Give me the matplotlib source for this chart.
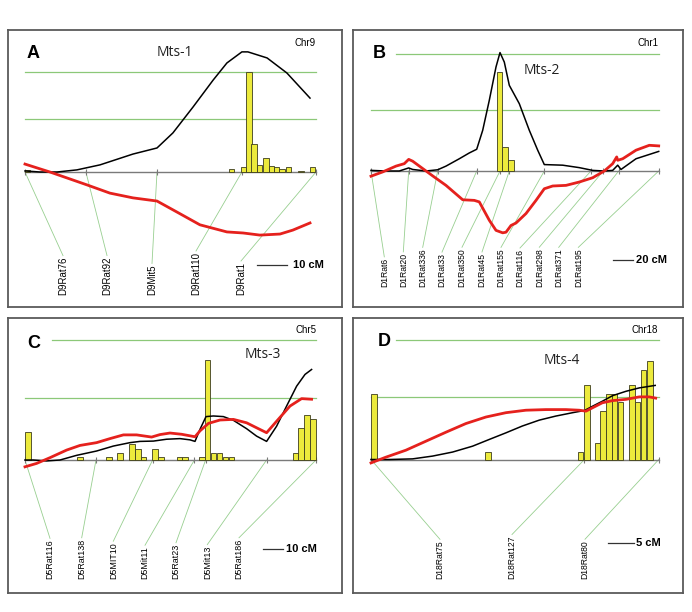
import matplotlib
matplotlib.use('Agg')
import matplotlib.pyplot as plt

W, H = 692, 612

# ---------------- DATA ----------------
# Panel A (Chr9, Mts-1)
a_markers = ['D9Rat76', 'D9Rat92', 'D9Mit5', 'D9Rat110', 'D9Rat1']
a_marker_cm = [0, 20.3, 44, 72.3, 97]
a_black_x = [0, 5, 10.7, 17.3, 25, 36, 44, 49.3, 56, 62.7, 67.3, 72.3, 74.3, 80.7, 87.3, 95]
a_black_y = [0.04, 0, 0, 0.08, 0.27, 0.68, 0.91, 1.48, 2.46, 3.48, 4.13, 4.55, 4.55, 4.32, 3.75, 2.80]
a_red_x = [0, 8.3, 20.7, 28.3, 36, 44, 50.7, 58.3, 67.3, 72.7, 78.3, 85, 89.3, 95]
a_red_y = [0.30, 0, -0.49, -0.80, -0.98, -1.10, -1.52, -2.0, -2.27, -2.31, -2.39, -2.35, -2.2, -1.93]
a_bar_x = [0, 67.9, 71.9, 73.7, 75.4, 77.2, 79.4, 81.2, 83, 84.8, 87, 91.1, 95]
a_bar_h = [0.06, 0.125, 0.18, 3.79, 1.06, 0.28, 0.53, 0.24, 0.19, 0.125, 0.19, 0.05, 0.19]
a_thresholds = [2.0, 3.79]

# Panel B (Chr1, Mts-2)
b_markers = ['D1Rat6', 'D1Rat20', 'D1Rat336', 'D1Rat33', 'D1Rat350', 'D1Rat45',
             'D1Rat155', 'D1Rat116', 'D1Rat298', 'D1Rat371', 'D1Rat195']
b_marker_cm = [0, 37.7, 66.7, 105.7, 129, 138.3, 173.3, 220, 232.3, 247.7, 287.7]
b_black_x = [0, 15, 28.3, 37.7, 41.7, 55, 66.7, 75, 88.3, 98.3, 105.7, 111.7, 118.3, 125,
             129, 133.3, 138.3, 148.3, 158.3, 166.7, 173.3, 191.7, 208.3, 221.7, 233.3,
             241.7, 246.7, 250, 265, 287.7]
b_black_y = [0.02, 0, 0, 0.10, 0.05, 0, 0.04, 0.16, 0.40, 0.59, 0.71, 1.33, 2.31, 3.40,
             3.87, 3.56, 2.80, 2.20, 1.33, 0.68, 0.21, 0.19, 0.11, 0.02, 0, 0.02, 0.19,
             0.05, 0.40, 0.64]
b_red_x = [0, 11.7, 25, 33.3, 37.7, 41.7, 51.7, 61.7, 75, 91.7, 103.3, 108.3, 118.3, 125,
           131.7, 135, 140, 145, 155, 165, 173.3, 181.7, 195, 208.3, 221.7, 233.3, 241.7,
           245.7, 246.7, 251.7, 265, 278.3, 287.7]
b_red_y = [-0.17, -0.03, 0.16, 0.24, 0.38, 0.32, 0.08, -0.16, -0.47, -0.94, -0.96, -1.01,
           -1.61, -1.94, -2.02, -2.0, -1.78, -1.70, -1.39, -0.96, -0.58, -0.49, -0.47,
           -0.36, -0.22, 0, 0.24, 0.46, 0.35, 0.40, 0.68, 0.84, 0.82]
b_bar_x = [125.7, 131, 137]
b_bar_h = [3.23, 0.77, 0.36]
b_thresholds = [2.0, 3.82]

# Panel C (Chr5, Mts-3)
c_markers = ['D5Rat116', 'D5Rat138', 'D5MIT10', 'D5Mit11', 'D5Rat23', 'D5Mit13', 'D5Rat186']
c_marker_cm = [0, 35.5, 63.8, 84.7, 90.3, 120.8, 145.5]
c_black_x = [0, 4.2, 10.8, 17.5, 25.8, 35.8, 44.2, 52.5, 57.5, 64.2, 70.8, 77.5, 82.5, 85,
             87.5, 90.5, 94.2, 99.2, 104.2, 110.8, 115.8, 120.8, 125.8, 130.8, 135.8, 140, 143.3]
c_black_y = [0, 0, -0.03, 0, 0.15, 0.29, 0.45, 0.56, 0.60, 0.61, 0.67, 0.69, 0.65, 0.60,
             0.99, 1.40, 1.42, 1.40, 1.28, 1.01, 0.77, 0.60, 1.09, 1.74, 2.38, 2.76, 2.92]
c_red_x = [0, 5.8, 12.5, 20.8, 27.5, 35.8, 42.5, 49.2, 55.8, 63.3, 67.5, 72.5, 78.3, 85,
           87.5, 91.7, 97.5, 104.2, 110.8, 116.7, 120.8, 125.8, 132.5, 138.3, 143.3]
c_red_y = [-0.22, -0.11, 0.075, 0.32, 0.47, 0.56, 0.69, 0.81, 0.81, 0.74, 0.82, 0.87, 0.83,
           0.75, 0.94, 1.18, 1.29, 1.31, 1.20, 1.01, 0.88, 1.25, 1.74, 1.98, 1.96]
c_bar_x = [0, 26.2, 40.5, 46.2, 52.2, 55, 57.8, 63.7, 66.7, 75.8, 78.7, 87.2, 89.8, 92.8,
           95.8, 98.8, 101.8, 133.8, 136.7, 139.5, 142.5]
c_bar_h = [0.90, 0.10, 0.09, 0.23, 0.52, 0.37, 0.09, 0.37, 0.09, 0.09, 0.09, 0.09, 3.22,
           0.23, 0.23, 0.09, 0.09, 0.23, 1.03, 1.44, 1.31]
c_thresholds = [2.0, 3.87]

# Panel D (Chr18, Mts-4)
d_markers = ['D18Rat75', 'D18Rat127', 'D18Rat80']
d_marker_cm = [0, 41.6, 56.1]
d_black_x = [0, 3.6, 8.1, 12, 15.9, 19.8, 23.1, 26.3, 29.5, 32.8, 36.0, 39.3, 41.6, 43.2,
             45.1, 47.1, 49.7, 52.3, 55.4]
d_black_y = [0, 0, 0.02, 0.11, 0.24, 0.43, 0.65, 0.86, 1.08, 1.27, 1.40, 1.51, 1.58, 1.72,
             1.88, 2.06, 2.20, 2.31, 2.39]
d_red_x = [0, 2.9, 6.8, 10.7, 14.6, 18.5, 22.4, 26.3, 30.2, 34.1, 38.0, 40.6, 41.9, 43.2,
           45.1, 47.1, 49.7, 52.3, 54.2, 55.5]
d_red_y = [-0.11, 0.075, 0.30, 0.59, 0.88, 1.16, 1.37, 1.51, 1.59, 1.61, 1.61, 1.59, 1.56,
           1.67, 1.83, 1.90, 1.94, 2.02, 2.02, 1.98]
d_bar_x = [0, 22.3, 40.3, 41.6, 43.7, 44.7, 45.8, 46.9, 48.1, 50.3, 51.4, 52.6, 53.8]
d_bar_h = [2.10, 0.25, 0.25, 2.39, 0.52, 1.58, 2.10, 2.10, 1.85, 2.39, 1.85, 2.90, 3.19]
d_thresholds = [2.02, 3.85]

panels = [
    dict(letter='A', chrom='Chr9', qtl='Mts-1', scale=10,
         markers=a_markers, mcm=a_marker_cm, bx=a_black_x, by=a_black_y,
         rx=a_red_x, ry=a_red_y, barx=a_bar_x, barh=a_bar_h, thr=a_thresholds,
         box=(8, 30, 342, 307), x0=25, ppc=3.0, base=172, ppl=26.4, barw=1.8,
         thr_start=[25, 25], x_end=316,
         lab_x=[63, 107, 152, 196, 241], lab_bottom=295, lab_fs=6.9,
         letter_xy=(27, 53), qtl_xy=(175, 53), chr_xy=(305, 43),
         sb_xy=(257, 265), sb_text_x=293),
    dict(letter='B', chrom='Chr1', qtl='Mts-2', scale=20,
         markers=b_markers, mcm=b_marker_cm, bx=b_black_x, by=b_black_y,
         rx=b_red_x, ry=b_red_y, barx=b_bar_x, barh=b_bar_h, thr=b_thresholds,
         box=(353, 30, 683, 307), x0=371, ppc=1.0, base=171, ppl=30.6, barw=5.5,
         thr_start=[371, 396], x_end=659,
         lab_x=[384.3, 403.3, 422.7, 442, 462, 482, 501, 520, 539.3, 558.7, 578.3],
         lab_bottom=287, lab_fs=6.2,
         letter_xy=(373, 53), qtl_xy=(542, 70), chr_xy=(648, 43),
         sb_xy=(613, 260), sb_text_x=636),
    dict(letter='C', chrom='Chr5', qtl='Mts-3', scale=10,
         markers=c_markers, mcm=c_marker_cm, bx=c_black_x, by=c_black_y,
         rx=c_red_x, ry=c_red_y, barx=c_bar_x, barh=c_bar_h, thr=c_thresholds,
         box=(8, 318, 342, 593), x0=25, ppc=2.0, base=460, ppl=31, barw=2.85,
         thr_start=[25, 52], x_end=316,
         lab_x=[50, 81.7, 113.3, 145, 176, 207.3, 239], lab_bottom=579, lab_fs=6.4,
         letter_xy=(27, 343), qtl_xy=(263, 354), chr_xy=(306, 330),
         sb_xy=(263, 549), sb_text_x=286),
    dict(letter='D', chrom='Chr18', qtl='Mts-4', scale=5,
         markers=d_markers, mcm=d_marker_cm, bx=d_black_x, by=d_black_y,
         rx=d_red_x, ry=d_red_y, barx=d_bar_x, barh=d_bar_h, thr=d_thresholds,
         box=(353, 318, 683, 593), x0=371, ppc=5.13, base=459.5, ppl=31, barw=1.1,
         thr_start=[371, 396], x_end=659,
         lab_x=[440, 512, 585], lab_bottom=579, lab_fs=6.2,
         letter_xy=(378, 341), qtl_xy=(562, 360), chr_xy=(645, 330),
         sb_xy=(608, 543), sb_text_x=636),
]

GREEN = '#8cc878'
CONN = '#98cf90'
YELLOW = '#ECEA3C'
RED = '#e5211d'
SANS = ['Liberation Sans', 'DejaVu Sans']
NARROW = ['Liberation Sans Narrow', 'Liberation Sans', 'DejaVu Sans']

fig = plt.figure(figsize=(W / 100, H / 100), dpi=100)
fig.patch.set_facecolor('white')

axes_info = []
for p in panels:
    l, t, r, b = p['box']
    ax = fig.add_axes([l / W, 1 - b / H, (r - l) / W, (b - t) / H])
    x0, ppc, base, ppl = p['x0'], p['ppc'], p['base'], p['ppl']
    ax.set_xlim((l - x0) / ppc, (r - x0) / ppc)
    ax.set_ylim((base - b) / ppl, (base - t) / ppl)
    ax.set_xticks([]); ax.set_yticks([])
    for s in ax.spines.values():
        s.set_color('#5a5a5a'); s.set_linewidth(1.3)

    def px2x(px):
        return (px - x0) / ppc

    def py2y(py):
        return (base - py) / ppl

    xend = px2x(p['x_end'])
    # threshold lines
    for thr, st in zip(p['thr'], p['thr_start']):
        ax.plot([px2x(st), xend], [thr, thr], color=GREEN, lw=0.9, zorder=1)
    # baseline with marker ticks
    ax.plot([0, xend], [0, 0], color='#7a7a7a', lw=1.0, zorder=2)
    ax.plot(p['mcm'], [0] * len(p['mcm']), ls='none', marker='|', ms=4,
            mew=0.8, color='#7a7a7a', zorder=2)
    # bars
    ax.bar(p['barx'], p['barh'], width=p['barw'], align='edge', color=YELLOW,
           edgecolor='#3c3c1e', linewidth=0.6, zorder=3)
    # curves
    ax.plot(p['bx'], p['by'], color='black', lw=1.1, zorder=4)
    ax.plot(p['rx'], p['ry'], color=RED, lw=2.0, zorder=5)
    # marker labels
    texts = []
    for name, lx in zip(p['markers'], p['lab_x']):
        tx = ax.text(px2x(lx), py2y(p['lab_bottom']), name, rotation=90,
                     ha='center', va='bottom', fontsize=p['lab_fs'],
                     family=NARROW if p['letter'] != 'A' else SANS,
                     color='black', zorder=6)
        texts.append(tx)
    # scale bar
    sx, sy = p['sb_xy']
    ax.plot([px2x(sx), px2x(sx) + p['scale']], [py2y(sy), py2y(sy)],
            color='#333333', lw=0.9)
    ax.text(px2x(p['sb_text_x']), py2y(sy), f"{p['scale']} cM", ha='left',
            va='center', fontsize=8, fontweight='bold', family=SANS)
    # panel texts
    lx_, ly_ = p['letter_xy']
    ax.text(px2x(lx_), py2y(ly_), p['letter'], ha='left', va='center',
            fontsize=13, fontweight='bold', family=SANS)
    qx, qy = p['qtl_xy']
    ax.text(px2x(qx), py2y(qy), p['qtl'], ha='center', va='center',
            fontsize=10, family=['Open Sans', 'DejaVu Sans'], color='#222222')
    cx, cy = p['chr_xy']
    ax.text(px2x(cx), py2y(cy), p['chrom'], ha='center', va='center',
            fontsize=7, family=SANS)
    axes_info.append((ax, p, texts))

# connectors from markers to the tops of their labels
fig.canvas.draw()
renderer = fig.canvas.get_renderer()
for ax, p, texts in axes_info:
    inv = ax.transData.inverted()
    for mc, tx in zip(p['mcm'], texts):
        bb = tx.get_window_extent(renderer)
        xd, yd = inv.transform(((bb.x0 + bb.x1) / 2, bb.y1 + 1))
        ax.plot([mc, xd], [0, yd], color=CONN, lw=0.6, zorder=1)

fig.savefig('out.png', dpi=100, facecolor='white')
